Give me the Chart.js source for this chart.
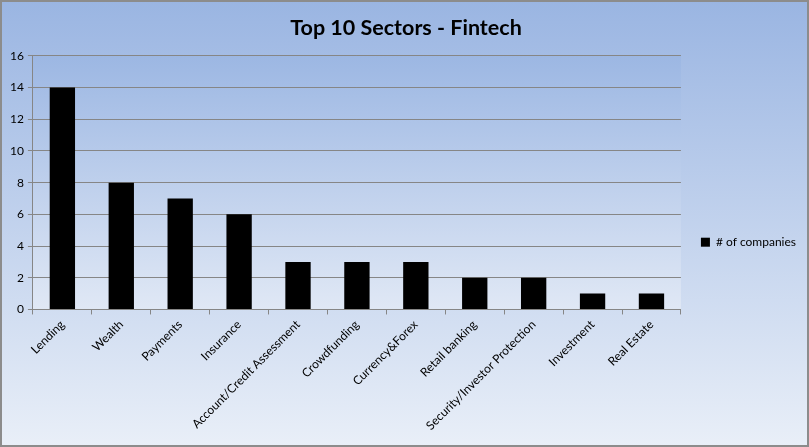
<!DOCTYPE html>
<html>
<head>
<meta charset="utf-8">
<script src="https://cdn.jsdelivr.net/npm/chart.js@4"></script>
<style>
  html, body { margin: 0; padding: 0; }
  #wrap { width: 809px; height: 447px; }
</style>
</head>
<body>
<div id="wrap"><canvas id="myChart"></canvas></div>
<script>
'use strict';

let sectors = ['Lending', 'Wealth', 'Payments', 'Insurance', 'Account/Credit Assessment',
  'Crowdfunding', 'Currency&Forex', 'Retail banking', 'Security/Investor Protection',
  'Investment', 'Real Estate'];
let companies = [14, 8, 7, 6, 3, 3, 3, 2, 2, 1, 1];
let seriesName = '# of companies';
let chartTitle = 'Top 10 Sectors - Fintech';

// background gradients + border, drawn like the old office chart
let backdrop = {
  id: 'backdrop',
  beforeDraw(chart) {
    let ctx = chart.ctx;
    let w = chart.width;
    let h = chart.height;
    let g = ctx.createLinearGradient(0, 0, 0, h);
    g.addColorStop(0, '#9ab5e2');
    g.addColorStop(1, '#e9eff8');
    ctx.save();
    ctx.fillStyle = g;
    ctx.fillRect(0, 0, w, h);
    let a = chart.chartArea;
    let pg = ctx.createLinearGradient(0, a.top, 0, a.bottom);
    pg.addColorStop(0, '#9cb7e3');
    pg.addColorStop(1, '#e0e8f5');
    ctx.fillStyle = pg;
    ctx.fillRect(a.left, a.top, a.right - a.left, a.bottom - a.top);
    ctx.strokeStyle = '#8c8c8c';
    ctx.lineWidth = 2;
    ctx.strokeRect(1, 1, w - 2, h - 2);
    ctx.restore();
  }
};

let chartStuff = {
  type: 'bar',
  data: {
    labels: sectors,
    datasets: [{
      label: seriesName,
      data: companies,
      backgroundColor: '#000000',
      borderWidth: 0,
      barPercentage: 0.43,
      categoryPercentage: 1
    }]
  },
  options: {
    responsive: true,
    maintainAspectRatio: false,
    animation: false,
    layout: {
      padding: { left: 6, right: 3, top: 4, bottom: 11 }
    },
    plugins: {
      title: {
        display: true,
        text: chartTitle,
        color: '#000000',
        font: { family: 'Lato', size: 21.5, weight: 'bold' },
        padding: { top: 11, bottom: 15 }
      },
      legend: {
        position: 'right',
        title: {
          display: true,
          text: ' ',
          font: { family: 'Lato', size: 12 },
          padding: { top: 30, bottom: 0 }
        },
        labels: {
          color: '#000000',
          boxWidth: 9,
          boxHeight: 9,
          padding: 20,
          font: { family: 'Lato', size: 12 }
        }
      },
      tooltip: { enabled: false }
    },
    scales: {
      x: {
        border: { color: '#868686', width: 1 },
        grid: {
          offset: true,
          drawOnChartArea: false,
          drawTicks: true,
          tickLength: 5,
          color: '#868686'
        },
        ticks: {
          color: '#000000',
          minRotation: 45,
          maxRotation: 45,
          autoSkip: false,
          font: { family: 'Lato', size: 12 }
        }
      },
      y: {
        min: 0,
        max: 16,
        border: { color: '#868686', width: 1 },
        grid: {
          color: '#868686',
          tickLength: 5
        },
        ticks: {
          stepSize: 2,
          color: '#000000',
          padding: 4,
          font: { family: 'Lato', size: 12 }
        }
      }
    }
  },
  plugins: [backdrop]
};

const ctx = document.getElementById('myChart').getContext('2d');
new Chart(ctx, chartStuff);
</script>
</body>
</html>
